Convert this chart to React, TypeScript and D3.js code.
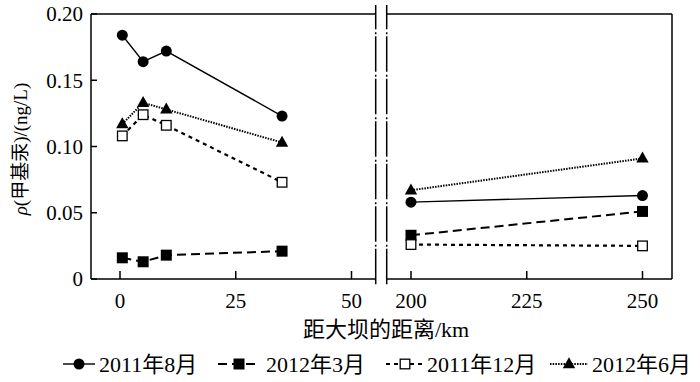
import React from "react";
import * as d3 from "d3";

const distLeft = [0.5, 5, 10, 35];
const distRight = [200, 250];
const aug2011Left = [0.184, 0.164, 0.172, 0.123];
const aug2011Right = [0.058, 0.063];
const mar2012Left = [0.016, 0.013, 0.018, 0.021];
const mar2012Right = [0.033, 0.051];
const dec2011Left = [0.108, 0.124, 0.116, 0.073];
const dec2011Right = [0.026, 0.025];
const jun2012Left = [0.117, 0.133, 0.128, 0.103];
const jun2012Right = [0.067, 0.091];

const yTicks = [0, 0.05, 0.1, 0.15, 0.2];
const xTicksLeft = [0, 25, 50];
const xTicksRight = [200, 225, 250];
const seriesNames = ["2011年8月", "2012年3月", "2011年12月", "2012年6月"];

const FONT = '"Liberation Serif", "Times New Roman", "Noto Sans CJK SC", serif';

type Sym = "circle" | "fsquare" | "osquare" | "triangle";

function Marker({ x, y, sym }: { x: number; y: number; sym: Sym }) {
  if (sym === "circle") return <circle cx={x} cy={y} r={5.5} fill="#000" />;
  if (sym === "fsquare") return <rect x={x - 5.5} y={y - 5.5} width={11} height={11} fill="#000" />;
  if (sym === "osquare")
    return <rect x={x - 4.8} y={y - 4.8} width={9.6} height={9.6} fill="#fff" stroke="#000" strokeWidth={1.3} />;
  const h = 11;
  return <path d={`M${x},${y - h * 0.62} L${x + 6.2},${y + h * 0.38} L${x - 6.2},${y + h * 0.38} Z`} fill="#000" />;
}

export default function App() {
  const y = d3.scaleLinear().domain([0, 0.2]).range([279, 14]);
  const xL = d3.scaleLinear().domain([0, 50]).range([120, 351.5]);
  const xR = d3.scaleLinear().domain([200, 250]).range([411, 642.5]);

  const leftX0 = 91, leftX1 = 375.7, rightX0 = 386.7, rightX1 = 672;
  const top = 14, bottom = 279;

  const series: { l: number[]; r: number[]; sym: Sym; dash: string; sw: number }[] = [
    { l: aug2011Left, r: aug2011Right, sym: "circle", dash: "none", sw: 1.4 },
    { l: mar2012Left, r: mar2012Right, sym: "fsquare", dash: "9,5", sw: 2 },
    { l: dec2011Left, r: dec2011Right, sym: "osquare", dash: "4,4", sw: 2.2 },
    { l: jun2012Left, r: jun2012Right, sym: "triangle", dash: "1.5,1.2", sw: 2 },
  ];

  const lineL = d3.line<number>().x((_, i) => xL(distLeft[i])).y((d) => y(d));
  const lineR = d3.line<number>().x((_, i) => xR(distRight[i])).y((d) => y(d));

  const fmt = (v: number) => (v === 0 ? "0" : d3.format(".2f")(v));

  const legendItems = [
    { x0: 63, x1: 95, mx: 79, tx: 99 },
    { x0: 218, x1: 260, mx: 239, tx: 266 },
    { x0: 386, x1: 424, mx: 405, tx: 427 },
    { x0: 550, x1: 588, mx: 569, tx: 592 },
  ];
  const legY = 364;

  return (
    <svg width={700} height={382} style={{ position: "absolute", left: 0, top: 0, background: "#fff" }} fontFamily={FONT}>
      <rect width={700} height={382} fill="#fff" />
      {/* frames */}
      <g stroke="#000" strokeWidth={1.5} fill="none">
        <line x1={leftX0} y1={top} x2={leftX1} y2={top} />
        <line x1={leftX0} y1={bottom} x2={leftX1} y2={bottom} />
        <line x1={leftX0} y1={top} x2={leftX0} y2={bottom} />
        <line x1={rightX0} y1={top} x2={rightX1} y2={top} />
        <line x1={rightX0} y1={bottom} x2={rightX1} y2={bottom} />
        <line x1={rightX1} y1={top} x2={rightX1} y2={bottom} />
        <line x1={leftX1} y1={5} x2={leftX1} y2={287} strokeDasharray="35.5,3,2,2" strokeDashoffset={11.2} />
        <line x1={rightX0} y1={5} x2={rightX0} y2={287} strokeDasharray="35.5,3,2,2" strokeDashoffset={11.2} />
      </g>
      {/* y ticks */}
      {yTicks.map((t) => (
        <g key={"y" + t}>
          <line x1={leftX0} x2={leftX0 + 6} y1={y(t)} y2={y(t)} stroke="#000" strokeWidth={1.5} />
          <text x={83} y={y(t)} dy="0.35em" textAnchor="end" fontSize={21}>
            {fmt(t)}
          </text>
        </g>
      ))}
      {/* x ticks */}
      {xTicksLeft.map((t) => (
        <g key={"xl" + t}>
          <line x1={xL(t)} x2={xL(t)} y1={bottom} y2={bottom - 8} stroke="#000" strokeWidth={1.5} />
          <text x={xL(t)} y={308} textAnchor="middle" fontSize={21}>
            {t}
          </text>
        </g>
      ))}
      {xTicksRight.map((t) => (
        <g key={"xr" + t}>
          <line x1={xR(t)} x2={xR(t)} y1={bottom} y2={bottom - 8} stroke="#000" strokeWidth={1.5} />
          <text x={xR(t)} y={308} textAnchor="middle" fontSize={21}>
            {t}
          </text>
        </g>
      ))}
      {/* axis titles */}
      <text x={386} y={337} textAnchor="middle" fontSize={22}>
        距大坝的距离/km
      </text>
      <text transform="translate(27,149) rotate(-90)" textAnchor="middle" fontSize={19}>
        <tspan fontStyle="italic">ρ</tspan>(甲基汞)/(ng/L)
      </text>
      {/* series */}
      {series.map((s, i) => (
        <g key={"s" + i}>
          <path d={lineL(s.l) || ""} fill="none" stroke="#000" strokeWidth={s.sw} strokeDasharray={s.dash} />
          <path d={lineR(s.r) || ""} fill="none" stroke="#000" strokeWidth={s.sw} strokeDasharray={s.dash} />
        </g>
      ))}
      {series.map((s, i) => (
        <g key={"m" + i}>
          {s.l.map((v, j) => (
            <Marker key={j} x={xL(distLeft[j])} y={y(v)} sym={s.sym} />
          ))}
          {s.r.map((v, j) => (
            <Marker key={"r" + j} x={xR(distRight[j])} y={y(v)} sym={s.sym} />
          ))}
        </g>
      ))}
      {/* legend */}
      {legendItems.map((it, i) => (
        <g key={"lg" + i}>
          <line x1={it.x0} x2={it.x1} y1={legY} y2={legY} stroke="#000" strokeWidth={series[i].sw} strokeDasharray={series[i].dash} />
          <Marker x={it.mx} y={legY} sym={series[i].sym} />
          <text x={it.tx} y={legY} dy="0.36em" fontSize={22}>
            {seriesNames[i]}
          </text>
        </g>
      ))}
    </svg>
  );
}
